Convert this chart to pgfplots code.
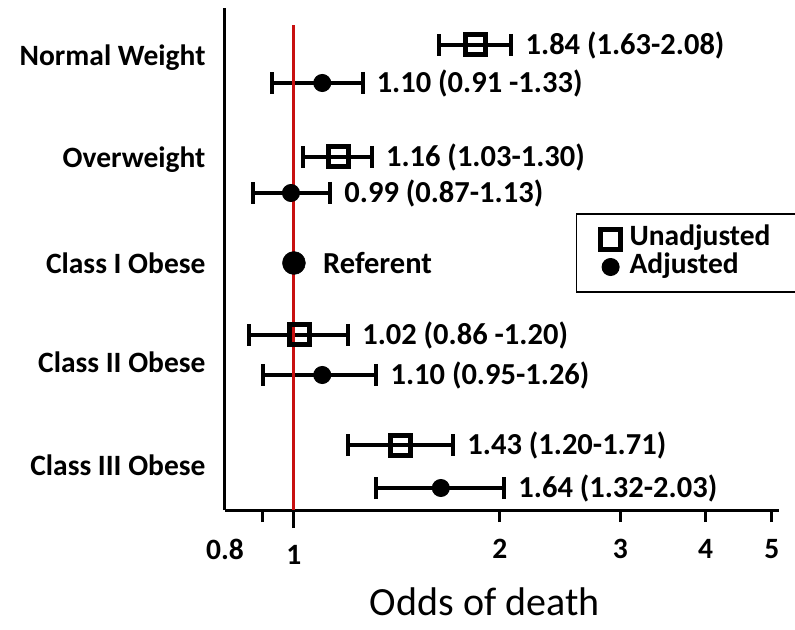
\documentclass[border=0pt]{standalone}
\usepackage{fontspec}
\setmainfont{Carlito}
\usepackage{pgfplots}
\pgfplotsset{compat=1.18}
\newcommand\lab{\fontsize{29.5bp}{30bp}\selectfont\bfseries}
\newcommand\ann{\fontsize{30.5bp}{31bp}\selectfont\bfseries}
\newcommand\xl{\fontsize{40bp}{42bp}\selectfont}
\definecolor{refred}{RGB}{200,16,16}
\begin{document}
\begin{tikzpicture}
\path[use as bounding box] (-225bp,-120bp) rectangle (570bp,510bp);
\begin{axis}[
  at={(0bp,0bp)}, anchor=south west,
  scale only axis, width=554bp, height=502bp,
  xmode=log, xmin=0.793, xmax=5.12,
  ymin=-1, ymax=501,
  axis x line*=bottom, axis y line*=left,
  axis line style={line width=3bp, black},
  clip=false,
  xtick={0.9,2,3,4,5}, xticklabels={,2,3,4,5},
  minor xtick={},
  extra x ticks={1}, extra x tick labels={1},
  extra x tick style={major tick length=18bp, xticklabel style={yshift=0bp}},
  xtick align=outside,
  major tick length=12bp,
  xtick style={line width=3bp, black},
  xticklabel style={font=\lab, yshift=-14bp},
  ytick={451,349,246,147,44},
  yticklabels={Normal Weight,Overweight,Class I Obese,Class II Obese,Class III Obese},
  ytick style={draw=none},
  yticklabel style={font=\lab, xshift=-16bp},
  xlabel={Odds of death},
  xlabel style={font=\xl, at={(axis description cs:0.469,-0.182)}, anchor=center},
  legend cell align=left,
  legend style={at={(axis description cs:0.6336,0.5908)}, anchor=north west,
    draw=black, line width=1.2bp, font=\lab,
    inner xsep=24bp, inner ysep=11bp, row sep=0bp,
    nodes={inner sep=0bp, text height=20bp, text depth=8bp}},
]
\addplot[only marks, mark=square, mark size=10bp,
  mark options={line width=5bp, draw=black, fill=none},
  error bars/.cd, x dir=both, x explicit, error mark=|,
  error bar style={line width=4bp, black},
  error mark options={line width=4bp, black, mark size=11bp}]
  table[x=x, y=y, x error plus=ep, x error minus=em] {
x y em ep
1.84 464 0.21 0.24
1.16 352 0.13 0.14
1.02 174 0.16 0.18
1.43 64 0.23 0.28
};
\addplot[only marks, mark=*, mark size=8.5bp,
  mark options={line width=1bp, draw=black, fill=black},
  error bars/.cd, x dir=both, x explicit, error mark=|,
  error bar style={line width=4bp, black},
  error mark options={line width=4bp, black, mark size=11bp}]
  table[x=x, y=y, x error plus=ep, x error minus=em] {
x y em ep
1.10 426 0.17 0.16
0.99 316 0.12 0.14
1.10 134 0.20 0.22
1.64 21 0.32 0.39
};
\addplot[only marks, mark=*, mark size=11.5bp,
  mark options={draw=black, fill=black}] coordinates {(1,246)};
\addplot[refred, line width=3bp] coordinates {(1,-1) (1,484)};
\addlegendimage{legend image code/.code={\draw[line width=3bp, black] (-1bp,-7bp) rectangle (13bp,7bp);}}
\addlegendentry{\hspace{9bp}Unadjusted\hspace*{13bp}}
\addlegendimage{legend image code/.code={\fill[black] (6bp,0bp) circle (9bp);}}
\addlegendentry{\hspace{9bp}Adjusted}
\begin{scope}[every node/.style={font=\ann, anchor=west, inner sep=0bp, xshift=14bp}]
\node at (axis cs:2.08,464) {1.84 (1.63-2.08)};
\node at (axis cs:1.26,426) {1.10 (0.91 -1.33)};
\node at (axis cs:1.30,352) {1.16 (1.03-1.30)};
\node at (axis cs:1.13,316) {0.99 (0.87-1.13)};
\node[xshift=15bp] at (axis cs:1,246) {Referent};
\node at (axis cs:1.20,174) {1.02 (0.86 -1.20)};
\node at (axis cs:1.32,134) {1.10 (0.95-1.26)};
\node at (axis cs:1.71,64) {1.43 (1.20-1.71)};
\node at (axis cs:2.03,21) {1.64 (1.32-2.03)};
\end{scope}
\node[font=\lab, anchor=north, inner sep=0bp, yshift=-29bp] at (rel axis cs:0,0) {0.8};
\end{axis}
\end{tikzpicture}
\end{document}
